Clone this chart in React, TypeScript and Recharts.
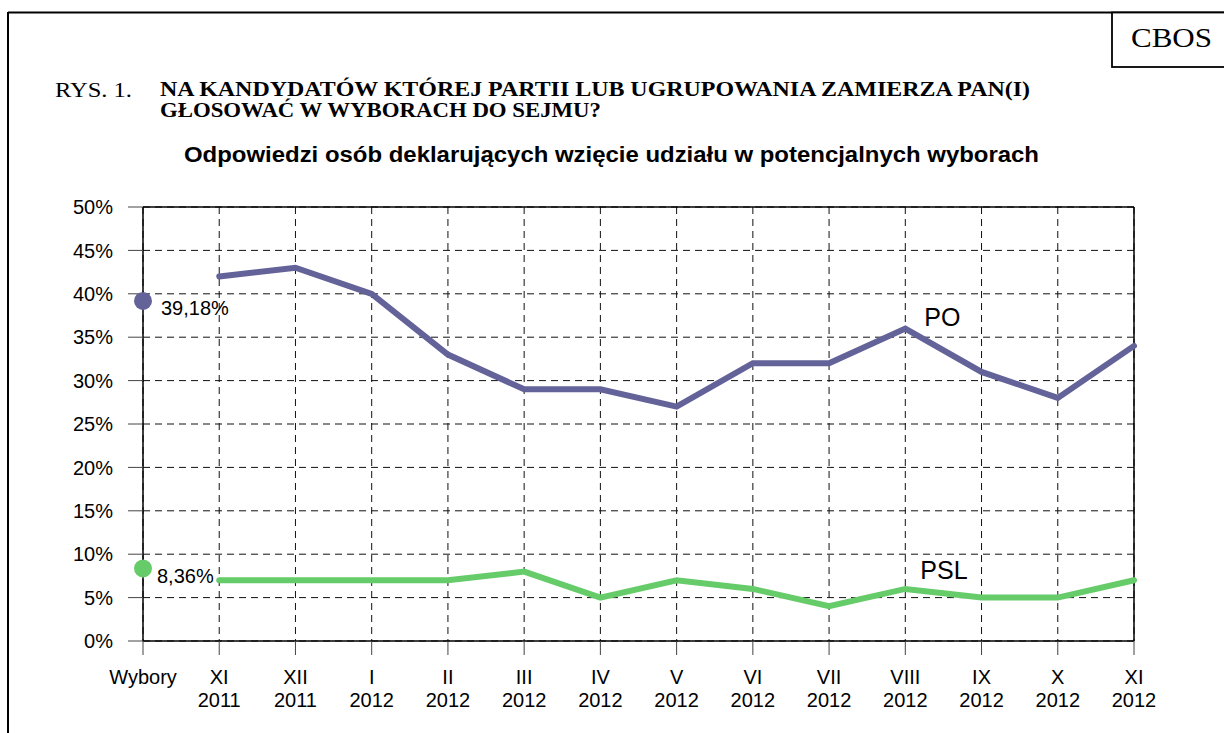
import React from "react";
import {
  LineChart,
  Line,
  XAxis,
  YAxis,
  CartesianGrid,
  ReferenceLine,
  LabelList,
} from "recharts";

const categories = [
  "Wybory",
  "XI 2011",
  "XII 2011",
  "I 2012",
  "II 2012",
  "III 2012",
  "IV 2012",
  "V 2012",
  "VI 2012",
  "VII 2012",
  "VIII 2012",
  "IX 2012",
  "X 2012",
  "XI 2012",
];
const poValues: (number | null)[] = [null, 42, 43, 40, 33, 29, 29, 27, 32, 32, 36, 31, 28, 34];
const pslValues: (number | null)[] = [null, 7, 7, 7, 7, 8, 5, 7, 6, 4, 6, 5, 5, 7];
const poElection = 39.18;
const pslElection = 8.36;
const poElectionLabel = "39,18%";
const pslElectionLabel = "8,36%";
const yTicks = [0, 5, 10, 15, 20, 25, 30, 35, 40, 45, 50];

const PO_COLOR = "#636399";
const PSL_COLOR = "#66cc6a";
const SANS = "'Liberation Sans', Arial, sans-serif";
const SERIF = "'Liberation Serif', 'Times New Roman', serif";

const data = categories.map((cat, i) => ({
  cat,
  po: poValues[i],
  psl: pslValues[i],
  poElection: i === 0 ? poElection : null,
  pslElection: i === 0 ? pslElection : null,
}));

const XTick = (props: any) => {
  const { x, y, payload } = props;
  const parts = String(payload.value).split(" ");
  return (
    <g>
      {parts.map((p: string, k: number) => (
        <text
          key={k}
          x={x}
          y={y + 29 + k * 23}
          textAnchor="middle"
          fontSize={20}
          fontFamily={SANS}
          fill="#000"
        >
          {p}
        </text>
      ))}
    </g>
  );
};

const makeLabel =
  (text: string, idx: number, dx: number, dy: number, size: number) =>
  (props: any) => {
    const { x, y, index } = props;
    if (index !== idx || x == null || y == null) return null;
    return (
      <text
        x={x + dx}
        y={y + dy}
        fontSize={size}
        fontFamily={SANS}
        fill="#000"
        textAnchor="start"
      >
        {text}
      </text>
    );
  };

export default function App() {
  return (
    <div
      style={{
        position: "absolute",
        left: 0,
        top: 0,
        width: 1224,
        height: 733,
        background: "#fff",
        overflow: "hidden",
      }}
    >
      <LineChart
        width={1224}
        height={733}
        data={data}
        margin={{ top: 207, right: 90, bottom: 32, left: 83 }}
      >
        <CartesianGrid
          stroke="#111"
          strokeDasharray="7 5"
          horizontal
          vertical
        />
        <XAxis
          dataKey="cat"
          type="category"
          interval={0}
          height={60}
          tickSize={14}
          tickMargin={0}
          axisLine={{ stroke: "#000", strokeWidth: 1.5 }}
          tickLine={{ stroke: "#444" }}
          tick={<XTick />}
        />
        <YAxis
          domain={[0, 50]}
          ticks={yTicks}
          width={60}
          tickSize={15}
          tickMargin={15}
          interval={0}
          tickFormatter={(v: number) => `${v}%`}
          axisLine={{ stroke: "#000", strokeWidth: 1.5 }}
          tickLine={{ stroke: "#444" }}
          tick={{ fontSize: 20, fontFamily: SANS, fill: "#000" }}
        />
        <ReferenceLine y={50} stroke="#000" strokeWidth={1.5} />
        <ReferenceLine x="XI 2012" stroke="#000" strokeWidth={1.5} />
        <Line
          dataKey="psl"
          stroke={PSL_COLOR}
          strokeWidth={6}
          dot={false}
          activeDot={false}
          strokeLinecap="round"
          isAnimationActive={false}
        >
          <LabelList dataKey="psl" content={makeLabel("PSL", 10, 15, -10, 25)} />
        </Line>
        <Line
          dataKey="po"
          stroke={PO_COLOR}
          strokeWidth={6}
          dot={false}
          activeDot={false}
          strokeLinecap="round"
          isAnimationActive={false}
        >
          <LabelList dataKey="po" content={makeLabel("PO", 10, 19, -3, 25)} />
        </Line>
        <Line
          dataKey="poElection"
          stroke="none"
          dot={{ r: 9, fill: PO_COLOR, stroke: "none" }}
          activeDot={false}
          isAnimationActive={false}
        >
          <LabelList
            dataKey="poElection"
            content={makeLabel(poElectionLabel, 0, 18, 14, 20)}
          />
        </Line>
        <Line
          dataKey="pslElection"
          stroke="none"
          dot={{ r: 9, fill: PSL_COLOR, stroke: "none" }}
          activeDot={false}
          isAnimationActive={false}
        >
          <LabelList
            dataKey="pslElection"
            content={makeLabel(pslElectionLabel, 0, 14, 14.5, 20)}
          />
        </Line>
      </LineChart>
      <svg
        width={1224}
        height={733}
        style={{ position: "absolute", left: 0, top: 0, pointerEvents: "none" }}
      >
        <line x1={8} y1={12.5} x2={1224} y2={12.5} stroke="#000" strokeWidth={2} />
        <line x1={8} y1={12} x2={8} y2={733} stroke="#000" strokeWidth={2} />
        <rect x={1112} y={12.5} width={120} height={54.5} fill="#fff" stroke="#000" strokeWidth={1.8} />
        <text
          x={1131}
          y={47}
          fontSize={28}
          fontFamily={SERIF}
          textLength={81}
          lengthAdjust="spacingAndGlyphs"
          fill="#000"
        >
          CBOS
        </text>
        <text x={55} y={96.5} fontSize={20} fontFamily={SERIF} textLength={77} lengthAdjust="spacingAndGlyphs" fill="#000">
          RYS. 1.
        </text>
        <text
          x={160}
          y={96}
          fontSize={20}
          fontWeight="bold"
          fontFamily={SERIF}
          textLength={870}
          lengthAdjust="spacingAndGlyphs"
          fill="#000"
        >
          NA KANDYDATÓW KTÓREJ PARTII LUB UGRUPOWANIA ZAMIERZA PAN(I)
        </text>
        <text
          x={160}
          y={117}
          fontSize={20}
          fontWeight="bold"
          fontFamily={SERIF}
          textLength={441}
          lengthAdjust="spacingAndGlyphs"
          fill="#000"
        >
          GŁOSOWAĆ W WYBORACH DO SEJMU?
        </text>
        <text
          x={184}
          y={162}
          fontSize={22}
          fontWeight="bold"
          fontFamily={SANS}
          textLength={855}
          lengthAdjust="spacingAndGlyphs"
          fill="#000"
        >
          Odpowiedzi osób deklarujących wzięcie udziału w potencjalnych wyborach
        </text>
      </svg>
    </div>
  );
}
